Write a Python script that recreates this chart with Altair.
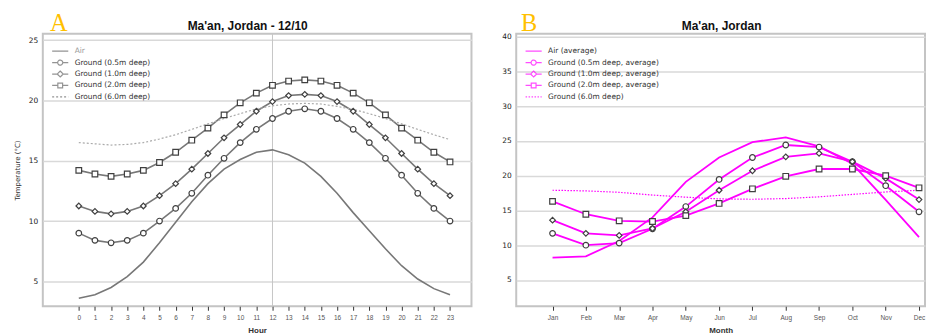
import altair as alt
import pandas as pd

# ---------------- data ----------------
hours = list(range(24))
air_hour = [3.6, 3.9, 4.5, 5.4, 6.6, 8.2, 9.9, 11.6, 13.1, 14.3, 15.1, 15.7, 15.9,
            15.5, 14.8, 13.7, 12.3, 10.7, 9.2, 7.7, 6.3, 5.2, 4.4, 3.9]
g05_hour = [9.0, 8.4, 8.2, 8.4, 9.0, 10.0, 11.05, 12.3, 13.8, 15.2, 16.5, 17.6, 18.5,
            19.1, 19.3, 19.1, 18.5, 17.6, 16.5, 15.2, 13.8, 12.3, 11.05, 10.0]
g10_hour = [11.25, 10.8, 10.6, 10.8, 11.25, 12.1, 13.1, 14.3, 15.6, 16.9, 18.0, 19.1, 19.9,
            20.4, 20.5, 20.4, 19.9, 19.1, 18.0, 16.9, 15.6, 14.3, 13.1, 12.1]
g20_hour = [14.2, 13.9, 13.7, 13.9, 14.2, 14.85, 15.7, 16.7, 17.7, 18.8, 19.8, 20.6, 21.25,
            21.6, 21.7, 21.6, 21.25, 20.6, 19.8, 18.8, 17.7, 16.7, 15.7, 14.9]
g60_hour = [16.5, 16.4, 16.3, 16.35, 16.5, 16.8, 17.15, 17.6, 18.05, 18.5, 18.9, 19.3, 19.55,
            19.7, 19.75, 19.7, 19.5, 19.25, 18.9, 18.5, 18.05, 17.6, 17.15, 16.75]

months = ["Jan", "Feb", "Mar", "Apr", "May", "Jun", "Jul", "Aug", "Sep", "Oct", "Nov", "Dec"]
month_idx = list(range(1, 13))
air_month = [8.2, 8.4, 10.6, 14.0, 19.1, 22.6, 24.8, 25.5, 24.2, 21.7, 16.5, 11.15]
g05_month = [11.7, 10.0, 10.3, 12.35, 15.55, 19.45, 22.6, 24.4, 24.1, 22.0, 18.55, 14.8]
g10_month = [13.6, 11.7, 11.4, 12.4, 14.8, 17.9, 20.7, 22.7, 23.2, 22.0, 19.6, 16.55]
g20_month = [16.3, 14.45, 13.5, 13.4, 14.25, 16.0, 18.1, 19.9, 20.95, 20.95, 20.0, 18.25]
g60_month = [17.9, 17.8, 17.6, 17.2, 16.9, 16.65, 16.6, 16.7, 16.95, 17.3, 17.65, 17.9]

series_A = ["Air", "Ground (0.5m deep)", "Ground (1.0m deep)",
            "Ground (2.0m deep)", "Ground (6.0m deep)"]
series_B = ["Air (average)", "Ground (0.5m deep, average)", "Ground (1.0m deep, average)",
            "Ground (2.0m deep, average)", "Ground (6.0m deep)"]

FONT = "Liberation Sans"
SMALL = "DejaVu Sans"


def long_df(xs, cols, names):
    rows = []
    for name, vals in zip(names, cols):
        for x, v in zip(xs, vals):
            rows.append({"x": x, "v": v, "series": name})
    return pd.DataFrame(rows)


dfA = long_df(hours, [air_hour, g05_hour, g10_hour, g20_hour, g60_hour], series_A)
dfB = long_df(month_idx, [air_month, g05_month, g10_month, g20_month, g60_month], series_B)

# legend symbols: short line with the marker in the middle (equal vertical extents)
EXT = "M0,-1M0,1"
LEGEND_PATHS = [
    EXT + "M-2.7,0L2.7,0",
    EXT + "M-2.7,0L-0.85,0M0.85,0L2.7,0M0.85,0A0.85,0.85,0,1,1,-0.85,0A0.85,0.85,0,1,1,0.85,0Z",
    EXT + "M-2.7,0L-1,0M1,0L2.7,0M0,-1L1,0L0,1L-1,0Z",
    EXT + "M-2.7,0L-0.8,0M0.8,0L2.7,0M-0.8,-0.8L0.8,-0.8L0.8,0.8L-0.8,0.8Z",
    EXT + "M-2.7,0L2.7,0",
]


def panel(df, names, xdom, ydom, yvals, width, height, xaxis, ytitle,
          line_color, leg_color, dot_color, dot_dash, title, title_x, letter, letter_x,
          label_color, rule_x=None):
    x_scale = alt.Scale(domain=xdom, nice=False, zero=False)
    y_scale = alt.Scale(domain=ydom, nice=False, zero=False)
    yaxis = alt.Axis(values=yvals, grid=True, gridColor="#d9d9d9", gridWidth=1.5,
                     domain=False, ticks=False, labelFont=SMALL, labelFontSize=7.5,
                     labelColor="#222", labelPadding=5,
                     title=ytitle if ytitle else None,
                     titleFont=SMALL, titleFontSize=7, titleFontWeight="normal",
                     titleColor="#333", titlePadding=8)
    X = alt.X("x:Q", scale=x_scale, axis=xaxis)
    Y = alt.Y("v:Q", scale=y_scale, axis=yaxis)
    base = alt.Chart(df)
    layers = []
    if rule_x is not None:
        layers.append(alt.Chart(pd.DataFrame({"x": [rule_x]})).mark_rule(
            color="#c6c6c6", strokeWidth=1).encode(x=alt.X("x:Q", scale=x_scale, axis=xaxis)))
    solid = names[:4]
    layers.append(base.transform_filter(
        alt.FieldOneOfPredicate(field="series", oneOf=solid)).mark_line(
        color=line_color, strokeWidth=1.8 if line_color != "#777777" else 1.6).encode(
        x=X, y=Y, detail="series:N"))
    layers.append(base.transform_filter(
        alt.FieldEqualPredicate(field="series", equal=names[4])).mark_line(
        color=dot_color, strokeWidth=1.2, strokeDash=dot_dash).encode(x=X, y=Y))
    layers.append(base.transform_filter(
        alt.FieldOneOfPredicate(field="series", oneOf=names[1:4])).mark_point(
        fill="white", stroke="#404040", strokeWidth=1.2, opacity=1, size=32,
        filled=False).encode(
        x=X, y=Y,
        shape=alt.Shape("series:N", scale=alt.Scale(domain=names[1:4],
                                                    range=["circle", "diamond", "square"]),
                        legend=None)))
    leg = alt.Legend(orient="none", legendX=13.5, legendY=13.5, padding=0,
                     symbolSize=36, labelFont=SMALL, labelFontSize=7.5,
                     labelOffset=10.5, rowPadding=-0.5, title=None, direction="vertical",
                     labelColor=label_color, symbolStrokeWidth=1.2,
                     symbolFillColor="white")
    dashes = [[1, 0], [1, 0], [1, 0], [1, 0], dot_dash]
    layers.append(base.transform_filter("false").mark_point(
        fill="white", stroke=leg_color, strokeWidth=1.2).encode(
        x=X, y=Y,
        shape=alt.Shape("series:N", scale=alt.Scale(domain=names, range=LEGEND_PATHS),
                        legend=leg),
        strokeDash=alt.StrokeDash("series:N", scale=alt.Scale(domain=names, range=dashes),
                                  legend=leg)))
    layers.append(alt.Chart(pd.DataFrame({"t": [title]})).mark_text(
        font=FONT, fontSize=12, fontWeight="bold", color="#111", align="center",
        baseline="alphabetic").encode(text="t:N", x=alt.value(title_x), y=alt.value(-4)))
    layers.append(alt.Chart(pd.DataFrame({"t": [letter]})).mark_text(
        font="Liberation Serif", fontSize=24.5, color="#FFC000", align="center",
        baseline="alphabetic").encode(text="t:N", x=alt.value(letter_x), y=alt.value(-2.5)))
    return alt.layer(*layers).resolve_scale(
        shape="independent", strokeDash="independent").properties(
        width=width, height=height)


xaxisA = alt.Axis(values=hours, grid=False, domain=False, ticks=True, tickColor="#333",
                  tickSize=4, tickWidth=1, labelFont=FONT, labelFontSize=6.5,
                  labelColor="#555", labelPadding=4, title="Hour", titleFont=FONT,
                  titleFontSize=8, titleFontWeight="bold", titleColor="#333",
                  titlePadding=5.5)
month_expr = "[" + ",".join("'%s'" % m for m in months) + "][datum.value - 1]"
xaxisB = alt.Axis(values=month_idx, grid=False, domain=False, ticks=True, tickColor="#333",
                  tickSize=4, tickWidth=1, labelFont=FONT, labelFontSize=6.5,
                  labelColor="#555", labelPadding=4, labelExpr=month_expr, title="Month",
                  titleFont=FONT, titleFontSize=8, titleFontWeight="bold",
                  titleColor="#333", titlePadding=5.5)

chartA = panel(dfA, series_A, [-2.23, 24.33], [2.94, 25.52], [5, 10, 15, 20, 25], 431, 274,
               xaxisA, "Temperature (°C)", "#777777", "#666666", "#aaaaaa", [2, 2],
               "Ma'an, Jordan - 12/10", 206, "A", 16,
               {"expr": "datum.label == 'Air' ? '#999999' : '#333333'"}, rule_x=12)
chartB = panel(dfB, series_B, [-0.09, 12.18], [1.22, 40.39], [5, 10, 15, 20, 25, 30, 35, 40],
               411, 274, xaxisB, None, "#ff00ff", "#ff00ff", "#ff00ff", [1.5, 1.5],
               "Ma'an, Jordan", 206.5, "B", 13, "#333333")

chart = alt.hconcat(chartA, chartB, spacing=28).resolve_scale(
    shape="independent", strokeDash="independent").properties(
    padding={"left": 4, "top": 1, "right": 0, "bottom": 0},
    background="white").configure_view(stroke="#c4c4c4", strokeWidth=2)

chart.save("out.html", embed_options={"renderer": "svg", "actions": False})
